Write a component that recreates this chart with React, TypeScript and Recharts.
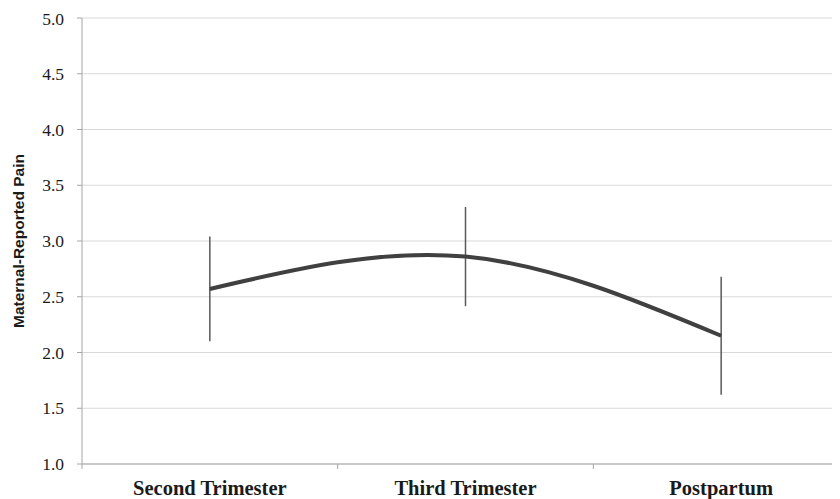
import React from 'react';
import { ComposedChart, Line, XAxis, YAxis, CartesianGrid, ErrorBar } from 'recharts';

const categories = ['Second Trimester', 'Third Trimester', 'Postpartum'];
const means = [2.57, 2.86, 2.15];
const errors = [0.47, 0.445, 0.53];
const yTicks = [1.0, 1.5, 2.0, 2.5, 3.0, 3.5, 4.0, 4.5, 5.0];

const data = categories.map((c, i) => ({ x: i + 0.5, name: c, mean: means[i], err: errors[i] }));
const xTicks = [0, 0.5, 1, 1.5, 2, 2.5, 3];

const serif = '"Liberation Serif", "Times New Roman", serif';

function XTick(props: any) {
  const { x, y, payload } = props;
  const v = payload.value as number;
  if (Number.isInteger(v)) {
    return <line x1={x} x2={x} y1={y} y2={y + 5} stroke="#a6a6a6" strokeWidth={1} />;
  }
  return (
    <text
      x={x}
      y={y + 31}
      textAnchor="middle"
      fontFamily={serif}
      fontWeight="bold"
      fontSize={20.5}
      fill="#1a1a1a"
    >
      {categories[Math.round(v - 0.5)]}
    </text>
  );
}

export default function App() {
  return (
    <div style={{ width: 832, height: 491, overflow: 'hidden', fontFamily: serif }}>
      <ComposedChart width={845} height={491} data={data} margin={{ top: 10, right: 4, bottom: 0, left: 0 }}>
        <CartesianGrid horizontal vertical={false} stroke="#d9d9d9" strokeWidth={1} />
        <XAxis
          dataKey="x"
          type="number"
          domain={[0, 3]}
          ticks={xTicks}
          interval={0}
          axisLine={{ stroke: '#a6a6a6' }}
          tickLine={false}
          tickSize={0}
          tickMargin={0}
          height={35}
          tick={<XTick />}
        />
        <YAxis
          domain={[1, 5]}
          ticks={yTicks}
          width={74}
          tickSize={5}
          tickMargin={13}
          axisLine={{ stroke: '#a6a6a6' }}
          tickLine={{ stroke: '#a6a6a6' }}
          tickFormatter={(v: number) => v.toFixed(1)}
          tick={{ fontFamily: serif, fontSize: 17.5, fill: '#1a1a1a' }}
          label={{
            value: 'Maternal-Reported Pain',
            angle: -90,
            position: 'insideLeft',
            offset: 10,
            style: { textAnchor: 'middle', fontFamily: '"Liberation Sans", Arial, sans-serif', fontWeight: 'bold', fontSize: 15.5, fill: '#1a1a1a' },
          }}
        />
        <Line
          type="natural"
          dataKey="mean"
          stroke="#404040"
          strokeWidth={4}
          dot={false}
          isAnimationActive={false}
        >
          <ErrorBar dataKey="err" width={0} stroke="#595959" strokeWidth={1.5} direction="y" />
        </Line>
      </ComposedChart>
    </div>
  );
}
